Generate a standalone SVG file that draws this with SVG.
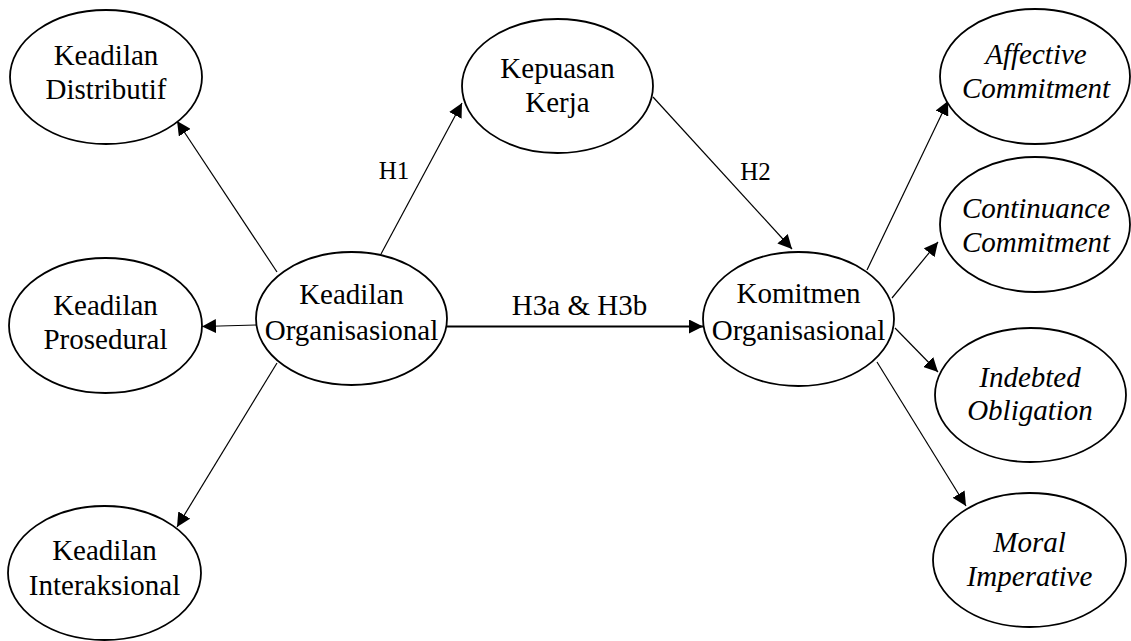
<svg xmlns="http://www.w3.org/2000/svg" width="1131" height="641" viewBox="0 0 1131 641">
<style>
.n{fill:#fff;stroke:#000;stroke-width:1.8}
.t{font-family:"Liberation Serif","Times New Roman",serif;font-size:29px;fill:#000;text-anchor:middle}
.i{font-style:italic}
.e{stroke:#000;stroke-width:1.2;fill:none;marker-end:url(#ah)}
.lb{font-family:"Liberation Serif","Times New Roman",serif;font-size:25px;fill:#000;text-anchor:middle}
</style>
<defs>
<marker id="ah" markerUnits="userSpaceOnUse" markerWidth="14" markerHeight="14" refX="14" refY="7" orient="auto">
<path d="M0,0 L14,7 L0,14 z" fill="#000"/>
</marker>
</defs>
<rect width="1131" height="641" fill="#fff"/>
<g id="connectors">
<line class="e" x1="277" y1="272" x2="177" y2="121"/>
<line class="e" x1="256" y1="325" x2="202" y2="326.5"/>
<line class="e" x1="277" y1="363" x2="177" y2="527"/>
<line class="e" x1="381" y1="254" x2="462" y2="103"/>
<line class="e" x1="653" y1="97" x2="792" y2="249"/>
<line class="e" x1="447" y1="326.5" x2="703" y2="326.5" style="stroke-width:2.2"/>
<line class="e" x1="867" y1="270" x2="948" y2="101"/>
<line class="e" x1="892" y1="298" x2="938" y2="242"/>
<line class="e" x1="895" y1="328" x2="938" y2="372"/>
<line class="e" x1="877" y1="362" x2="966" y2="506"/>
<text class="lb" x="394" y="179">H1</text>
<text class="lb" x="755.5" y="180">H2</text>
<text class="t" x="579.5" y="315">H3a &amp; H3b</text>
</g>
<g id="distributif">
<ellipse class="n" cx="106" cy="77" rx="96" ry="67"/>
<text class="t" x="106" y="65">Keadilan</text>
<text class="t" x="106" y="99">Distributif</text>
</g>
<g id="prosedural">
<ellipse class="n" cx="105.5" cy="325.5" rx="96.5" ry="67.5"/>
<text class="t" x="105.5" y="315">Keadilan</text>
<text class="t" x="105.5" y="349">Prosedural</text>
</g>
<g id="interaksional">
<ellipse class="n" cx="104.5" cy="573" rx="96.5" ry="67"/>
<text class="t" x="104.5" y="560">Keadilan</text>
<text class="t" x="104.5" y="595">Interaksional</text>
</g>
<g id="organisasional">
<ellipse class="n" cx="351.5" cy="318.5" rx="95.5" ry="66.5"/>
<text class="t" x="351.5" y="304">Keadilan</text>
<text class="t" x="351.5" y="340">Organisasional</text>
</g>
<g id="kepuasan">
<ellipse class="n" cx="557.5" cy="86" rx="95.5" ry="67"/>
<text class="t" x="557.5" y="78">Kepuasan</text>
<text class="t" x="557.5" y="112">Kerja</text>
</g>
<g id="komitmen">
<ellipse class="n" cx="798.5" cy="319" rx="95.5" ry="67"/>
<text class="t" x="798.5" y="303">Komitmen</text>
<text class="t" x="798.5" y="340">Organisasional</text>
</g>
<g id="affective">
<ellipse class="n" cx="1035" cy="76.5" rx="95" ry="67.5"/>
<text class="t i" x="1036" y="64">Affective</text>
<text class="t i" x="1036" y="98">Commitment</text>
</g>
<g id="continuance">
<ellipse class="n" cx="1035" cy="224.5" rx="95" ry="67.5"/>
<text class="t i" x="1036" y="218">Continuance</text>
<text class="t i" x="1036" y="252">Commitment</text>
</g>
<g id="indebted">
<ellipse class="n" cx="1030.5" cy="395" rx="95.5" ry="67"/>
<text class="t i" x="1030" y="387">Indebted</text>
<text class="t i" x="1030" y="420">Obligation</text>
</g>
<g id="moral">
<ellipse class="n" cx="1029.5" cy="560" rx="96.5" ry="67"/>
<text class="t i" x="1029.5" y="552">Moral</text>
<text class="t i" x="1029.5" y="586">Imperative</text>
</g>
</svg>
